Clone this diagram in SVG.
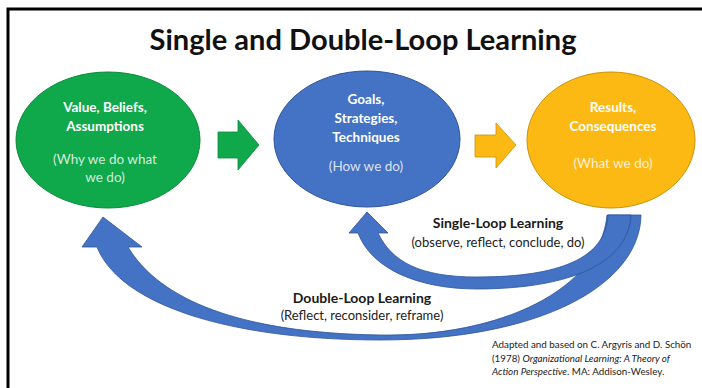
<svg xmlns="http://www.w3.org/2000/svg" width="702" height="388" viewBox="0 0 702 388">
  <style>
    .t { font-family: Lato, "Liberation Sans", sans-serif; text-anchor: middle; }
    .node-head { font-size: 13.5px; font-weight: bold; fill: #ffffff; }
    .node-sub { font-size: 13.5px; fill: #ffffff; fill-opacity: 0.82; }
    .loop-head { font-size: 14px; font-weight: bold; fill: #1a1a1a; }
    .loop-sub { font-size: 13px; fill: #222222; }
    .cite { font-family: Lato, "Liberation Sans", sans-serif; font-size: 9.8px; fill: #222222; }
    .loop { fill: #4472c4; stroke: #2f5597; stroke-width: 0.8; }
  </style>

  <rect width="702" height="388" fill="#ffffff"/>
  <!-- frame: top and left rules only -->
  <path d="M8 388 V9 H702" fill="none" stroke="#000000" stroke-width="3"/>

  <text class="t" x="363" y="50" font-size="28" font-weight="bold" fill="#111111" textLength="427" lengthAdjust="spacingAndGlyphs">Single and Double-Loop Learning</text>

  <g id="values">
    <ellipse cx="108" cy="140" rx="92" ry="68" fill="#0fa84b" stroke="#0b8a3c" stroke-width="1"/>
    <text class="t node-head" x="105" y="112">Value, Beliefs,</text>
    <text class="t node-head" x="105" y="131">Assumptions</text>
    <text class="t node-sub" x="105" y="164">(Why we do what</text>
    <text class="t node-sub" x="105" y="182">we do)</text>
  </g>

  <g id="goals">
    <ellipse cx="367" cy="139" rx="93" ry="68" fill="#4472c4" stroke="#2f5597" stroke-width="1"/>
    <text class="t node-head" x="366" y="104">Goals,</text>
    <text class="t node-head" x="366" y="123">Strategies,</text>
    <text class="t node-head" x="366" y="142">Techniques</text>
    <text class="t node-sub" x="366" y="171">(How we do)</text>
  </g>

  <g id="results">
    <ellipse cx="611" cy="140" rx="84" ry="68" fill="#fdb913" stroke="#c99208" stroke-width="1"/>
    <text class="t node-head" x="613" y="112">Results,</text>
    <text class="t node-head" x="613" y="131">Consequences</text>
    <text class="t node-sub" x="613" y="168">(What we do)</text>
  </g>

  <g id="connectors">
    <!-- block arrows between the stages -->
    <path d="M218 132 H238 V120 L259 145 L238 170 V158 H218 Z" fill="#0fa84b" stroke="#0b8a3c" stroke-width="0.8"/>
    <path d="M475 135 H496 V123 L516 145 L496 168 V157 H475 Z" fill="#fdb913" stroke="#c99208" stroke-width="0.8"/>

    <!-- double loop: results back to values -->
    <path class="loop" d="M103 217 L142 247 L128 247 C160 300 240 333 380 335 C500 337 600 290 607 215 L641 215 C640 285 540 340 380 340 C230 340 120 305 97 247 L82 247 Z"/>
    <!-- single loop: results back to goals (drawn over the double loop's tail) -->
    <path class="loop" d="M367 212 L388 233 L378 233 C392 262 420 277 477 277 C560 277 606 258 608 215 L631 215 C628 268 560 289 477 289 C420 289 372 270 358 233 L349 233 Z"/>
  </g>

  <g id="labels">
    <text class="t loop-head" x="498" y="228">Single-Loop Learning</text>
    <text class="t loop-sub" x="498" y="247">(observe, reflect, conclude, do)</text>
    <text class="t loop-head" x="362" y="303">Double-Loop Learning</text>
    <text class="t loop-sub" x="362" y="320">(Reflect, reconsider, reframe)</text>
  </g>

  <g id="citation">
    <text class="cite" x="492" y="348">Adapted and based on C. Argyris and D. Schön</text>
    <text class="cite" x="492" y="362">(1978) <tspan font-style="italic">Organizational Learning: A Theory of</tspan></text>
    <text class="cite" x="492" y="375"><tspan font-style="italic">Action Perspective</tspan>. MA: Addison-Wesley.</text>
  </g>
</svg>
